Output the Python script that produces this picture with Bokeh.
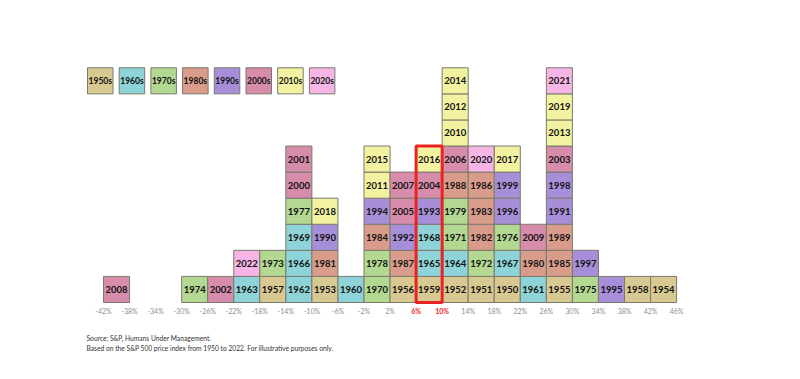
from bokeh.plotting import figure
from bokeh.models import ColumnDataSource, Range1d
from bokeh.core.properties import value
from bokeh.embed import file_html
from bokeh.resources import INLINE

# S&P 500 calendar-year price returns, bucketed into 4-point bins (lower edge, %)
bin_width = 4
bin_starts = [-42, -38, -34, -30, -26, -22, -18, -14, -10, -6, -2,
              2, 6, 10, 14, 18, 22, 26, 30, 34, 38, 42]
bin_years = [
    [2008],
    [],
    [],
    [1974],
    [2002],
    [1963, 2022],
    [1957, 1973],
    [1962, 1966, 1969, 1977, 2000, 2001],
    [1953, 1981, 1990, 2018],
    [1960],
    [1970, 1978, 1984, 1994, 2011, 2015],
    [1956, 1987, 1992, 2005, 2007],
    [1959, 1965, 1968, 1993, 2004, 2016],
    [1952, 1964, 1971, 1979, 1988, 2006, 2010, 2012, 2014],
    [1951, 1972, 1982, 1983, 1986, 2020],
    [1950, 1967, 1976, 1996, 1999, 2017],
    [1961, 1980, 2009],
    [1955, 1985, 1989, 1991, 1998, 2003, 2013, 2019, 2021],
    [1975, 1997],
    [1995],
    [1958],
    [1954],
]
tick_values = [-42, -38, -34, -30, -26, -22, -18, -14, -10, -6, -2,
               2, 6, 10, 14, 18, 22, 26, 30, 34, 38, 42, 46]
decades = ["1950s", "1960s", "1970s", "1980s", "1990s", "2000s", "2010s", "2020s"]
decade_colors = ["#D8C891", "#8DD3D7", "#B3D891", "#D99C8B",
                 "#A68FD8", "#D68CAA", "#F3F2A1", "#F6B5E5"]
highlight_bin = 6
source_lines = [
    "Source: S&P, Humans Under Management.",
    "Based on the S&P 500 price index from 1950 to 2022. For illustrative purposes only.",
]

W, H = 800, 379
PX_PER_PCT = 26.05 / bin_width
ROW_PX = 26.08
X0_PX = 103.0          # pixel of the first bin edge
BASE_PX = 302.0        # pixel of the stack baseline

x_start = bin_starts[0] - X0_PX / PX_PER_PCT
x_end = x_start + W / PX_PER_PCT
y_start = -(H - BASE_PX) / ROW_PX
y_end = BASE_PX / ROW_PX


def px_x(px):
    return x_start + px / PX_PER_PCT


def px_y(py):
    return (BASE_PX - py) / ROW_PX


p = figure(width=W, height=H, x_range=Range1d(x_start, x_end), y_range=Range1d(y_start, y_end),
           output_backend="svg", toolbar_location=None, min_border=0,
           x_axis_location=None, y_axis_location=None, outline_line_color=None)
p.grid.visible = False
p.background_fill_color = "white"
p.border_fill_color = "white"

FONT = value("Lato")
EDGE = "#7A7A6C"

# one stacked cell per year
cells = dict(left=[], right=[], bottom=[], top=[], xc=[], yc=[], label=[], color=[])
for lo, years in zip(bin_starts, bin_years):
    for level, yr in enumerate(sorted(years)):
        cells["left"].append(lo)
        cells["right"].append(lo + bin_width)
        cells["bottom"].append(level)
        cells["top"].append(level + 1)
        cells["xc"].append(lo + bin_width / 2)
        cells["yc"].append(level + 0.5)
        cells["label"].append(str(yr))
        cells["color"].append(decade_colors[(yr - 1950) // 10])
src = ColumnDataSource(cells)
p.quad(left="left", right="right", bottom="bottom", top="top", source=src,
       fill_color="color", line_color=EDGE, line_width=1)
p.text(x="xc", y="yc", text="label", source=src, text_font=FONT, text_font_style="bold",
       text_font_size="9.5px", text_color="#111111", text_align="center", text_baseline="middle")

# outline around the highlighted bin
h_count = len(bin_years[bin_starts.index(highlight_bin)])
p.quad(left=[highlight_bin], right=[highlight_bin + bin_width], bottom=[0], top=[h_count],
       fill_color=None, line_color="#EC2222", line_width=3)

# tick labels along the base
tick_src = ColumnDataSource(dict(
    x=tick_values,
    y=[px_y(310)] * len(tick_values),
    label=[f"{t}%" for t in tick_values],
    color=["#EC2222" if t in (highlight_bin, highlight_bin + bin_width) else "#8E8E8E" for t in tick_values],
    style=["bold" if t in (highlight_bin, highlight_bin + bin_width) else "normal" for t in tick_values],
))
p.text(x="x", y="y", text="label", source=tick_src, text_font=FONT, text_font_size="7px",
       text_color="color", text_font_style="style", text_align="center", text_baseline="middle")

# decade legend
leg_src = ColumnDataSource(dict(
    left=[px_x(87 + 31.7 * i) for i in range(len(decades))],
    right=[px_x(112.5 + 31.7 * i) for i in range(len(decades))],
    xc=[px_x(99.75 + 31.7 * i) for i in range(len(decades))],
    label=decades,
    color=decade_colors,
))
p.quad(left="left", right="right", bottom=8, top=9, source=leg_src,
       fill_color="color", line_color=EDGE, line_width=1)
p.text(x="xc", y=8.5, text="label", source=leg_src, text_font=FONT, text_font_style="bold",
       text_font_size="8.5px", text_color="#111111", text_align="center", text_baseline="middle")

# source note
p.text(x=[px_x(86)] * 2, y=[px_y(337.5), px_y(347)], text=source_lines, text_font=FONT,
       text_font_size="6.7px", text_color="#333333", text_align="left", text_baseline="middle")

open("out.html", "w").write(file_html(p, INLINE))
